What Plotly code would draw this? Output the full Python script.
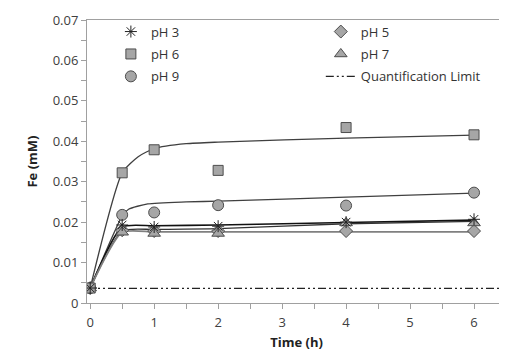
import plotly.graph_objects as go

# Measured data
time = [0, 0.5, 1, 2, 4, 6]
ph3 = [0.0037, 0.0193, 0.0188, 0.0190, 0.0200, 0.0207]
ph5 = [0.0037, 0.0180, 0.0178, 0.0178, 0.0178, 0.0178]
ph6 = [0.0037, 0.0322, 0.0379, 0.0328, 0.0434, 0.0416]
ph7 = [0.0037, 0.0175, 0.0172, 0.0172, 0.0198, 0.0198]
ph9 = [0.0037, 0.0218, 0.0224, 0.0242, 0.0241, 0.0273]

# Fitted curves
fit6_t = [0, 0.5, 0.75, 1, 1.5, 2, 4, 6]
fit6_y = [0.0037, 0.0322, 0.0362, 0.0382, 0.0394, 0.0398, 0.0408, 0.0415]
fit9_t = [0, 0.5, 0.6, 0.9, 1.5, 2, 4, 6]
fit9_y = [0.0037, 0.0215, 0.0232, 0.0245, 0.0250, 0.0252, 0.0262, 0.0272]
fit3_t = [0, 0.5, 1, 2, 4, 6]
fit3_y = [0.0037, 0.0188, 0.0191, 0.0193, 0.0199, 0.0205]
fit7_t = [0, 0.5, 1, 2, 4, 6]
fit7_y = [0.0037, 0.0178, 0.0182, 0.0184, 0.0196, 0.0202]
fit5_t = [0, 0.5, 1, 2, 4, 6]
fit5_y = [0.0037, 0.0175, 0.0176, 0.0176, 0.0176, 0.0176]

ql_t = [-0.05, 6.5]
ql_y = [0.0036, 0.0036]

FILL = "#a6a6a6"
EDGE = "#4d4d4d"
FONT = "Open Sans"

fig = go.Figure()

curves = [
    (fit6_t, fit6_y, "#404040", 1.3),
    (fit9_t, fit9_y, "#404040", 1.3),
    (fit3_t, fit3_y, "#111111", 1.6),
    (fit7_t, fit7_y, "#333333", 1.3),
    (fit5_t, fit5_y, "#808080", 1.8),
]
for t, y, c, w in curves:
    fig.add_trace(go.Scatter(x=t, y=y, mode="lines", line=dict(color=c, width=w, shape="spline", smoothing=0.6),
                             showlegend=False, hoverinfo="skip"))

fig.add_trace(go.Scatter(x=ql_t, y=ql_y, mode="lines", name="Quantification Limit", legendgroup="ql",
                         line=dict(color="#222222", width=1.2, dash="8px,3px,2px,3px,2px,3px"),
                         legend="legend2", legendrank=3))

fig.add_trace(go.Scatter(x=time, y=ph5, mode="markers", name="pH 5", legend="legend2", legendrank=1, legendgroup="p5",
                         marker=dict(symbol="diamond", size=10, color=FILL, line=dict(color=EDGE, width=1))))
fig.add_trace(go.Scatter(x=time, y=ph7, mode="markers", name="pH 7", legend="legend2", legendrank=2, legendgroup="p7",
                         marker=dict(symbol="triangle-up", size=11, color=FILL, line=dict(color=EDGE, width=1))))
fig.add_trace(go.Scatter(x=time, y=ph9, mode="markers", name="pH 9", legendrank=3, legendgroup="p9",
                         marker=dict(symbol="circle", size=11, color=FILL, line=dict(color=EDGE, width=1))))
fig.add_trace(go.Scatter(x=time, y=ph6, mode="markers", name="pH 6", legendrank=2, legendgroup="p6",
                         marker=dict(symbol="square", size=10, color=FILL, line=dict(color=EDGE, width=1))))
fig.add_trace(go.Scatter(x=time, y=ph3, mode="markers", name="pH 3", legendrank=1, legendgroup="p3",
                         marker=dict(symbol="asterisk-open", size=10, color="#222222", line=dict(color="#222222", width=1))))

legend_common = dict(bgcolor="rgba(0,0,0,0)", font=dict(family=FONT, size=13, color="#333333"),
                     xanchor="left", yanchor="top", traceorder="grouped", tracegroupgap=2.5)

fig.update_layout(
    width=499, height=344,
    margin=dict(l=79, r=1, t=12, b=49),
    paper_bgcolor="white", plot_bgcolor="white",
    font=dict(family=FONT, size=13, color="#404040"),
    legend=dict(x=0.057, y=1.012, **legend_common),
    legend2=dict(x=0.558, y=1.012, **legend_common),
    xaxis=dict(range=[-0.05, 6.5], tickmode="array", tickvals=[0, 1, 2, 3, 4, 5, 6],
               showgrid=False, zeroline=False, showline=True, linecolor="#a0a0a0", linewidth=1,
               mirror=True, ticks="outside", ticklen=5, tickcolor="#a0a0a0",
               minor=dict(tickvals=[0.5, 1.5, 2.5, 3.5, 4.5, 5.5], ticks="outside", ticklen=5, tickcolor="#a0a0a0"),
               title=dict(text="<b>Time (h)</b>", font=dict(family=FONT, size=13, color="#222222"), standoff=8),
               tickfont=dict(family=FONT, size=13, color="#404040"), ticklabelstandoff=2),
    yaxis=dict(range=[0, 0.07], tickmode="array", tickvals=[0, 0.01, 0.02, 0.03, 0.04, 0.05, 0.06, 0.07],
               ticktext=["0", "0.01", "0.02", "0.03", "0.04", "0.05", "0.06", "0.07"],
               showgrid=False, zeroline=False, showline=True, linecolor="#a0a0a0", linewidth=1,
               mirror=True, ticks="outside", ticklen=5, tickcolor="#a0a0a0",
               minor=dict(tickvals=[0.005, 0.015, 0.025, 0.035, 0.045, 0.055, 0.065], ticks="outside", ticklen=5, tickcolor="#a0a0a0"),
               title=dict(text="<b>Fe (mM)</b>", font=dict(family=FONT, size=13, color="#222222"), standoff=12),
               tickfont=dict(family=FONT, size=13, color="#404040")),
)

fig.write_html("out.html")
